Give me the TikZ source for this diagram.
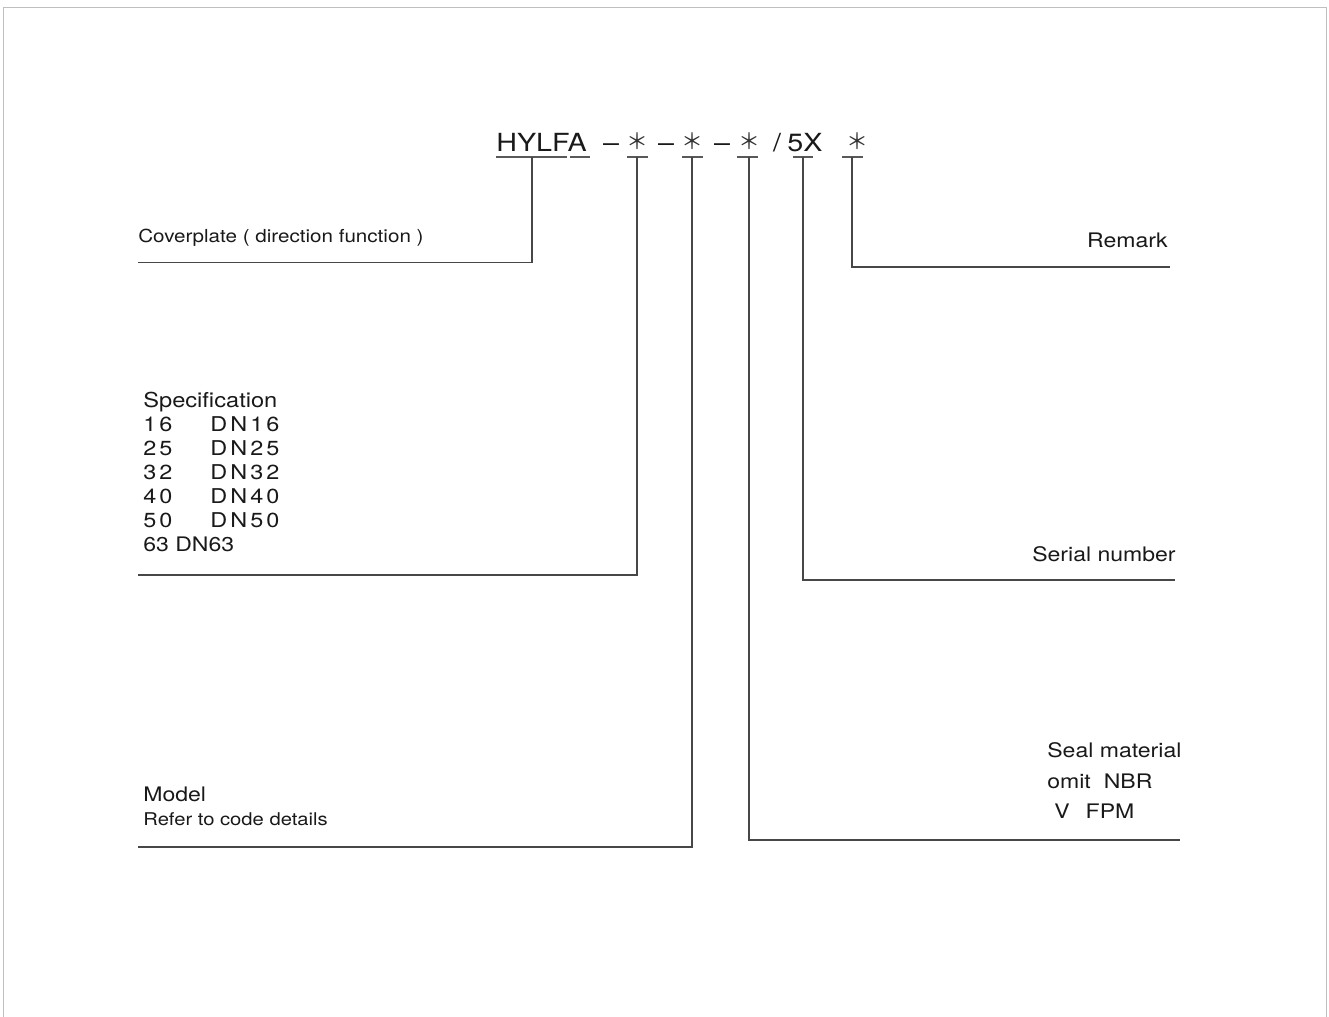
\documentclass[tikz,border=0pt]{standalone}
\usepackage{fontspec}
\setmainfont[FakeStretch=1.15]{TeX Gyre Heros}
\newfontfamily\spaced[FakeStretch=1.15,LetterSpace=15]{TeX Gyre Heros}
\newfontfamily\cjk{Noto Sans CJK SC}
\usetikzlibrary{positioning,calc}

\begin{document}
\begin{tikzpicture}[x=0.02cm,y=-0.02cm,
    frame/.style={draw=black!25,line width=1.1pt},
    lead/.style={draw=black!72,line width=0.7pt},
    uline/.style={draw=black!65,line width=0.7pt},
    code/.style={inner sep=0pt,text=black!90,font=\fontsize{14.2}{17}\selectfont},
    starmark/.style={inner sep=0pt,text=black!80,font=\cjk\fontsize{12.5}{15}\selectfont},
    lbl/.style={inner sep=0pt,text=black!90,font=\fontsize{11.4}{14}\selectfont},
    lblsmall/.style={lbl,font=\fontsize{10.2}{12}\selectfont},
    spc/.style={lbl,font=\spaced\fontsize{11.6}{14}\selectfont}]

    % page size and frame
    \useasboundingbox (0,0) rectangle (1329,1017);
    \draw[frame] (3.5,1017) -- (3.5,7.5) -- (1326.5,7.5) -- (1326.5,1017);

    % ---- order code ----
    \node[code,anchor=base west] (hylfa) at (496,152) {HYLFA};
    \node[code,anchor=base] (dash1) at (611,152) {–};
    \node[starmark] (star1) at (637,141) {＊};
    \node[code,anchor=base] (dash2) at (666,152) {–};
    \node[starmark] (star2) at (692,141) {＊};
    \node[code,anchor=base] (dash3) at (722,152) {–};
    \node[starmark] (star3) at (749,141) {＊};
    \node[code,anchor=base] (slash) at (777,152) {/};
    \node[code,anchor=base west] (fivex) at (787,152) {5X};
    \node[starmark] (star4) at (857,141) {＊};

    % underlines of the code fields
    \foreach \a/\b in {496/567,570/590,627/648,682/703,737/758,793/813,842/863}
        \draw[uline] (\a,157) -- (\b,157);

    % tick points under the fields
    \coordinate (tHylfa) at (532,157);
    \coordinate (tSpec) at (637,157);
    \coordinate (tModel) at (692,157);
    \coordinate (tSeal) at (749,157);
    \coordinate (tSerial) at (803,157);
    \coordinate (tRemark) at (852,157);

    % free ends of the lead lines
    \coordinate (eCover) at (138,262.5);
    \coordinate (eSpec) at (138,575);
    \coordinate (eModel) at (138,847);
    \coordinate (eRemark) at (1170,267);
    \coordinate (eSerial) at (1175,580);
    \coordinate (eSeal) at (1180,840);

    % ---- lead lines ----
    \draw[lead] (tHylfa) |- (eCover);
    \draw[lead] (tSpec) |- (eSpec);
    \draw[lead] (tModel) |- (eModel);
    \draw[lead] (tRemark) |- (eRemark);
    \draw[lead] (tSerial) |- (eSerial);
    \draw[lead] (tSeal) |- (eSeal);

    % ---- left labels ----
    \node[lblsmall,anchor=base west] (cover) at (138,242) {Coverplate ( direction function )};

    \node[lbl,font=\fontsize{11.7}{14}\selectfont,anchor=base west] (spec) at (143,407) {Specification};
    \foreach \d [count=\i from 0] in {16,25,32,40,50} {
        \node[spc,anchor=base west] (num\d) at (143,431+24*\i) {\d};
        \node[spc,anchor=base west] (dn\d) at (210,431+24*\i) {DN\d};
    }
    \node[lbl,anchor=base west] (num63) at (143,551) {63 DN63};

    \node[lbl,anchor=base west] (model) at (143,801) {Model};
    \node[lbl,font=\fontsize{10}{12}\selectfont,anchor=base west] (refer) at (143,825) {Refer to code details};

    % ---- right labels ----
    \node[lbl,anchor=base east] (remark) at (1168,247) {Remark};
    \node[lbl,anchor=base east] (serial) at (1176,561) {Serial number};
    \node[lbl,anchor=base west] (seal) at (1047,757) {Seal material};
    \node[lbl,anchor=base west] (omit) at (1047,788) {omit\hspace{0.26cm}NBR};
    \node[lbl,anchor=base west] (fpm) at (1054,818) {V\hspace{0.32cm}FPM};

\end{tikzpicture}
\end{document}
